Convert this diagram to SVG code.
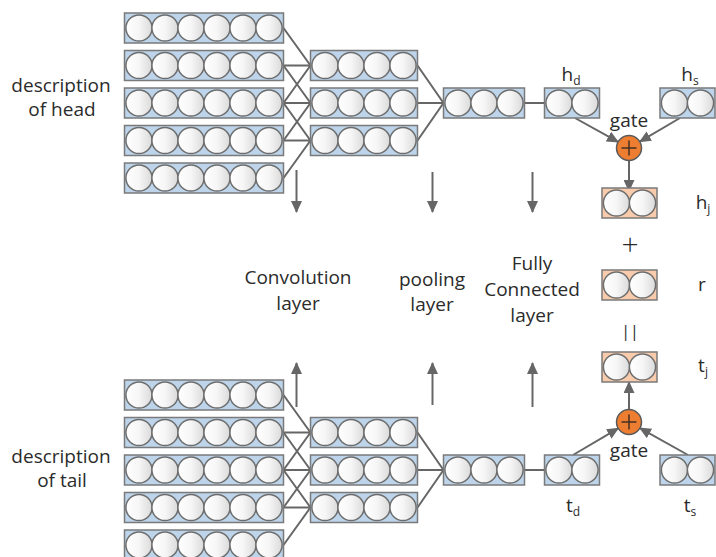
<svg xmlns="http://www.w3.org/2000/svg" xmlns:xlink="http://www.w3.org/1999/xlink" width="716" height="557" viewBox="0 0 716 557">
  <style>
    .blk { fill: #bdd4ea; stroke: #7a7a7a; stroke-width: 1.5; }
    .org { fill: #f8cbad; stroke: #7a7a7a; stroke-width: 1.5; }
    .ball { fill: url(#ballGrad); stroke: #6e6e6e; stroke-width: 1.5; }
    .wire { stroke: #666666; stroke-width: 2; fill: none; }
    .arrow { stroke: #666666; stroke-width: 2; fill: none; marker-end: url(#ah); }
    .gate { fill: #ed7d31; stroke: #5a5a5a; stroke-width: 1.5; }
    .plus { stroke: #3a2a20; stroke-width: 1.4; }
    text { font-family: "Open Sans", "Noto Sans", "DejaVu Sans", sans-serif; fill: #2b2b2b; font-size: 19px; text-anchor: middle; }
    .sub { font-size: 12px; }
  </style>
  <defs>
    <linearGradient id="ballGrad" x1="0" y1="0" x2="1" y2="0">
      <stop offset="0" stop-color="#ffffff"/>
      <stop offset="0.5" stop-color="#f6f6f6"/>
      <stop offset="1" stop-color="#dadada"/>
    </linearGradient>
    <marker id="ah" markerUnits="userSpaceOnUse" markerWidth="12" markerHeight="11" refX="11" refY="5.5" orient="auto">
      <path d="M0,0 L12,5.5 L0,11 z" fill="#666666"/>
    </marker>
    <circle id="ball" cx="14.5" cy="15" r="13.1" class="ball"/>
    <!-- vector blocks of n units: width 26n+3, height 30 -->
    <g id="blk6">
      <rect x="0" y="0" width="159" height="30" class="blk"/>
      <use xlink:href="#ball" x="0"/><use xlink:href="#ball" x="26"/><use xlink:href="#ball" x="52"/>
      <use xlink:href="#ball" x="78"/><use xlink:href="#ball" x="104"/><use xlink:href="#ball" x="130"/>
    </g>
    <g id="blk4">
      <rect x="0" y="0" width="107" height="30" class="blk"/>
      <use xlink:href="#ball" x="0"/><use xlink:href="#ball" x="26"/><use xlink:href="#ball" x="52"/><use xlink:href="#ball" x="78"/>
    </g>
    <g id="blk3">
      <rect x="0" y="0" width="81" height="30" class="blk"/>
      <use xlink:href="#ball" x="0"/><use xlink:href="#ball" x="26"/><use xlink:href="#ball" x="52"/>
    </g>
    <g id="blk2">
      <rect x="0" y="0" width="55" height="30" class="blk"/>
      <use xlink:href="#ball" x="0"/><use xlink:href="#ball" x="26"/>
    </g>
    <g id="org2">
      <rect x="0" y="0" width="55" height="30" class="org"/>
      <use xlink:href="#ball" x="0"/><use xlink:href="#ball" x="26"/>
    </g>
    <g id="gateSym">
      <circle cx="0" cy="0" r="12.5" class="gate"/>
      <line x1="-7.5" y1="0" x2="7.5" y2="0" class="plus"/>
      <line x1="0" y1="-7.5" x2="0" y2="7.5" class="plus"/>
    </g>
  </defs>

  <rect x="0" y="0" width="716" height="557" fill="#ffffff"/>

  <!-- connectors -->
  <g id="connectors">
    <!-- head: input rows to convolution -->
    <path class="wire" d="M283.5,28 L310.5,65.5 M283.5,65.5 L310.5,65.5 M283.5,103 L310.5,65.5"/>
    <path class="wire" d="M283.5,65.5 L310.5,103 M283.5,103 L310.5,103 M283.5,140.5 L310.5,103"/>
    <path class="wire" d="M283.5,103 L310.5,140.5 M283.5,140.5 L310.5,140.5 M283.5,178 L310.5,140.5"/>
    <!-- head: convolution to pooling to fully connected -->
    <path class="wire" d="M417.5,65.5 L443.5,103 M417.5,103 L443.5,103 M417.5,140.5 L443.5,103"/>
    <path class="wire" d="M524.5,103 L544.5,103"/>
    <!-- tail: input rows to convolution -->
    <path class="wire" d="M283.5,395 L310.5,432.5 M283.5,432.5 L310.5,432.5 M283.5,470 L310.5,432.5"/>
    <path class="wire" d="M283.5,432.5 L310.5,470 M283.5,470 L310.5,470 M283.5,507.5 L310.5,470"/>
    <path class="wire" d="M283.5,470 L310.5,507.5 M283.5,507.5 L310.5,507.5 M283.5,545 L310.5,507.5"/>
    <!-- tail: convolution to pooling to fully connected -->
    <path class="wire" d="M417.5,432.5 L443.5,470 M417.5,470 L443.5,470 M417.5,507.5 L443.5,470"/>
    <path class="wire" d="M524.5,470 L544.5,470"/>
    <!-- layer direction arrows -->
    <line class="arrow" x1="296.5" y1="170" x2="296.5" y2="212"/>
    <line class="arrow" x1="432.5" y1="172" x2="432.5" y2="212"/>
    <line class="arrow" x1="532.5" y1="172" x2="532.5" y2="212"/>
    <line class="arrow" x1="296.5" y1="407" x2="296.5" y2="363"/>
    <line class="arrow" x1="432.5" y1="405" x2="432.5" y2="363"/>
    <line class="arrow" x1="532.5" y1="407" x2="532.5" y2="363"/>
    <!-- head gate -->
    <line class="arrow" x1="575" y1="118" x2="618.1" y2="141.9"/>
    <line class="arrow" x1="680" y1="118" x2="639.8" y2="141.7"/>
    <line class="arrow" x1="629" y1="160.5" x2="629" y2="191"/>
    <!-- tail gate -->
    <line class="arrow" x1="573" y1="455" x2="618.2" y2="428.3"/>
    <line class="arrow" x1="688" y1="455" x2="639.9" y2="428.1"/>
    <line class="arrow" x1="629" y1="409.5" x2="629" y2="382"/>
  </g>

  <!-- head description input -->
  <g id="head-desc"><text x="61" y="92">description</text><text x="62" y="116">of head</text></g>
  <g id="head-in-1"><use xlink:href="#blk6" x="124.5" y="13"/></g>
  <g id="head-in-2"><use xlink:href="#blk6" x="124.5" y="50.5"/></g>
  <g id="head-in-3"><use xlink:href="#blk6" x="124.5" y="88"/></g>
  <g id="head-in-4"><use xlink:href="#blk6" x="124.5" y="125.5"/></g>
  <g id="head-in-5"><use xlink:href="#blk6" x="124.5" y="163"/></g>
  <g id="head-conv-1"><use xlink:href="#blk4" x="310.5" y="50.5"/></g>
  <g id="head-conv-2"><use xlink:href="#blk4" x="310.5" y="88"/></g>
  <g id="head-conv-3"><use xlink:href="#blk4" x="310.5" y="125.5"/></g>
  <g id="head-pool"><use xlink:href="#blk3" x="443.5" y="88"/></g>
  <g id="h-d"><use xlink:href="#blk2" x="544.5" y="88"/><text x="571" y="81">h<tspan class="sub" dy="4">d</tspan></text></g>
  <g id="h-s"><use xlink:href="#blk2" x="660" y="88"/><text x="690" y="81">h<tspan class="sub" dy="4">s</tspan></text></g>
  <g id="head-gate"><use xlink:href="#gateSym" x="629" y="148"/><text x="629" y="127">gate</text></g>
  <g id="h-j"><use xlink:href="#org2" x="602" y="188"/><text x="703" y="209">h<tspan class="sub" dy="4">j</tspan></text></g>

  <!-- translation relation -->
  <g id="plus-op"><text x="630" y="255" style="font-size:30px;font-weight:300">+</text></g>
  <g id="r"><use xlink:href="#org2" x="602" y="270"/><text x="702" y="291">r</text></g>
  <g id="eq-op"><text x="630" y="337" style="font-size:16px">||</text></g>

  <!-- tail description input -->
  <g id="t-j"><use xlink:href="#org2" x="602" y="352"/><text x="703" y="372">t<tspan class="sub" dy="4">j</tspan></text></g>
  <g id="tail-gate"><use xlink:href="#gateSym" x="629" y="422"/><text x="629" y="457">gate</text></g>
  <g id="t-d"><use xlink:href="#blk2" x="544.5" y="455"/><text x="573" y="512">t<tspan class="sub" dy="4">d</tspan></text></g>
  <g id="t-s"><use xlink:href="#blk2" x="660" y="455"/><text x="690" y="512">t<tspan class="sub" dy="4">s</tspan></text></g>
  <g id="tail-pool"><use xlink:href="#blk3" x="443.5" y="455"/></g>
  <g id="tail-conv-1"><use xlink:href="#blk4" x="310.5" y="417.5"/></g>
  <g id="tail-conv-2"><use xlink:href="#blk4" x="310.5" y="455"/></g>
  <g id="tail-conv-3"><use xlink:href="#blk4" x="310.5" y="492.5"/></g>
  <g id="tail-in-1"><use xlink:href="#blk6" x="124.5" y="380"/></g>
  <g id="tail-in-2"><use xlink:href="#blk6" x="124.5" y="417.5"/></g>
  <g id="tail-in-3"><use xlink:href="#blk6" x="124.5" y="455"/></g>
  <g id="tail-in-4"><use xlink:href="#blk6" x="124.5" y="492.5"/></g>
  <g id="tail-in-5"><use xlink:href="#blk6" x="124.5" y="530"/></g>
  <g id="tail-desc"><text x="61" y="463">description</text><text x="62" y="487">of tail</text></g>

  <!-- layer captions -->
  <g id="layer-labels">
    <text x="298" y="284">Convolution</text><text x="298" y="310">layer</text>
    <text x="432" y="286">pooling</text><text x="432" y="311">layer</text>
    <text x="532" y="270">Fully</text><text x="532" y="296">Connected</text><text x="532" y="322">layer</text>
  </g>
</svg>
